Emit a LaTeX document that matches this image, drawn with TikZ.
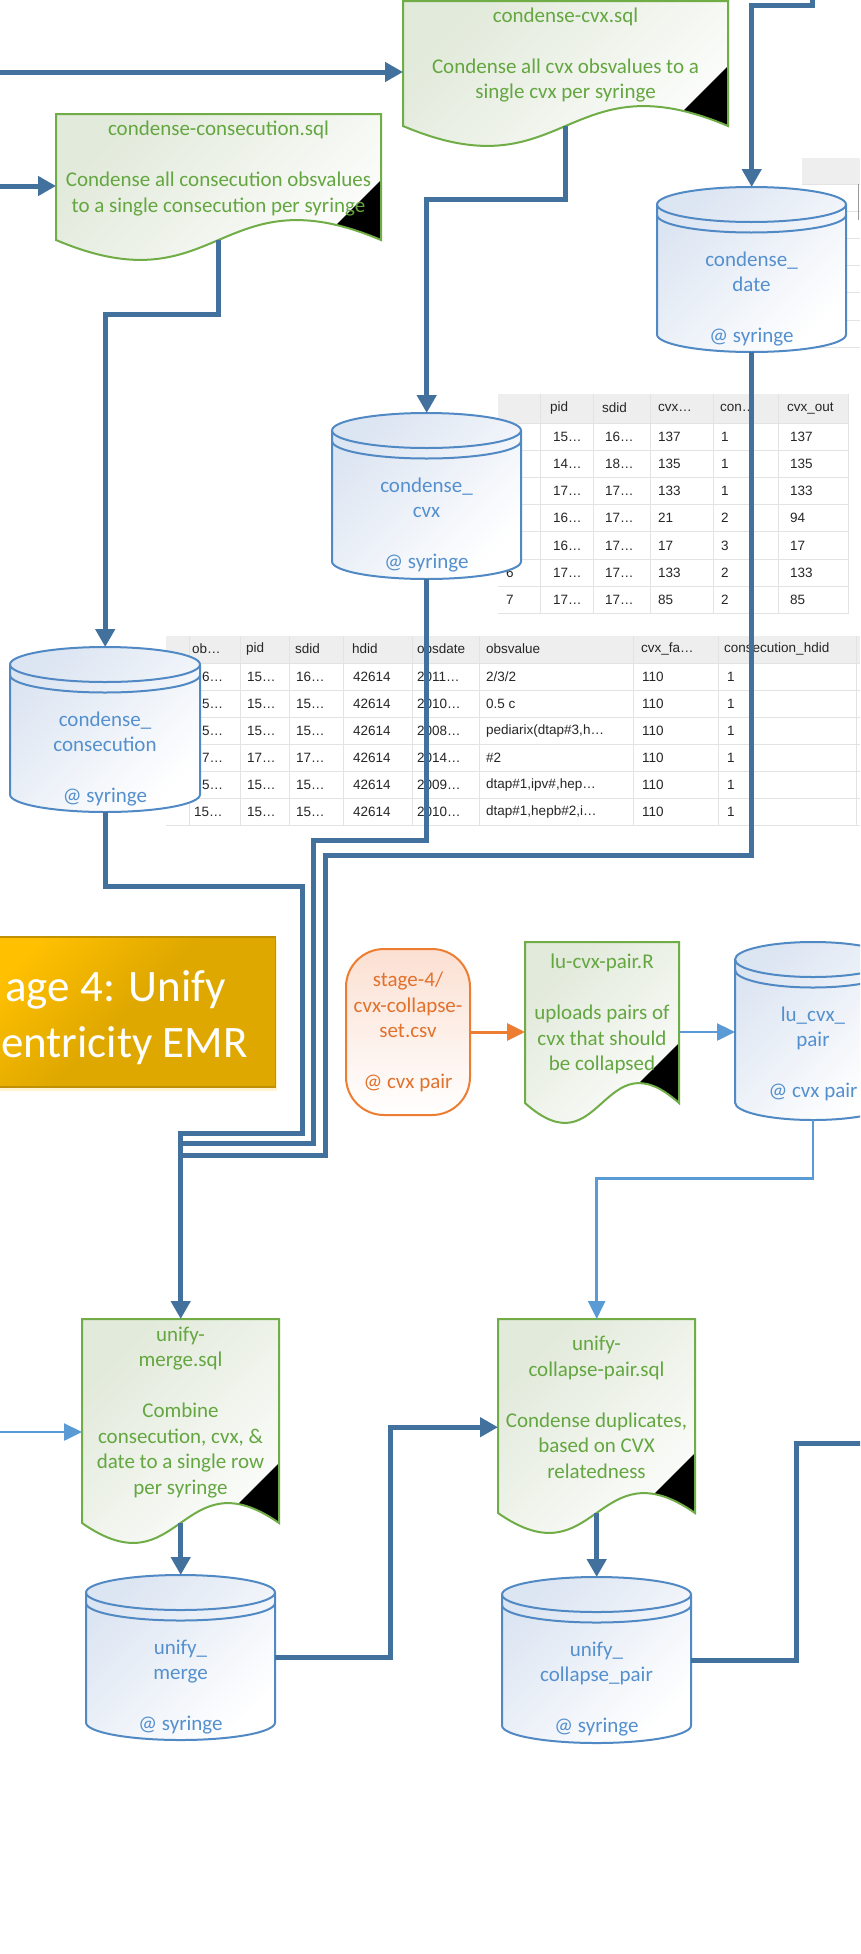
\documentclass[tikz,border=0pt]{standalone}
\usepackage{fontspec}
\setmainfont{Carlito}
\newfontfamily\tabfont{Liberation Sans}
\usetikzlibrary{positioning, calc, arrows.meta, shadows}

\definecolor{flowblue}{HTML}{41719C}
\definecolor{lightflow}{HTML}{5B9BD5}
\definecolor{docgreen}{HTML}{70AD47}
\definecolor{docgreentext}{HTML}{64A640}
\definecolor{docshade}{HTML}{E2EADB}
\definecolor{cylblue}{HTML}{5189C4}
\definecolor{cyltext}{HTML}{5590CE}
\definecolor{cylshade}{HTML}{DCE5F2}
\definecolor{csvorange}{HTML}{ED7D31}
\definecolor{csvtext}{HTML}{E2712B}
\definecolor{csvshade}{HTML}{FBE0D2}
\definecolor{stagegold}{HTML}{DFA800}
\definecolor{stagelight}{HTML}{FFC000}
\definecolor{stageedge}{HTML}{BF9000}
\definecolor{gridgray}{HTML}{E3E3E3}
\definecolor{headgray}{HTML}{EEEEEE}

\tikzset{
>={Triangle[width=19pt,length=18pt]}, % filled arrow heads
flow/.style={draw=flowblue, line width=5pt, ->}, % main data flow
flowline/.style={draw=flowblue, line width=5pt}, % flow that runs into another one
thinflow/.style={draw=lightflow, line width=2.5pt, ->, >={Triangle[width=17pt,length=18pt]}},
csvflow/.style={draw=csvorange, line width=3pt, ->, >={Triangle[width=17pt,length=18pt]}},
docbox/.style={rectangle, inner sep=0pt, draw=none},
docfill/.style={top color=docshade, bottom color=white, shading angle=45},
docedge/.style={draw=docgreen, line width=2pt},
doctext/.style={align=center, text=docgreentext, font=\fontsize{21}{25.5}\selectfont},
dbbox/.style={rectangle, inner sep=0pt, draw=none},
dbfill/.style={draw=cylblue, line width=2pt, top color=cylshade, bottom color=white, shading angle=45},
dbrim/.style={draw=cylblue, line width=2pt},
dbtext/.style={align=center, text=cyltext, font=\fontsize{21}{25.5}\selectfont},
csvbox/.style={rectangle, rounded corners=38pt, draw=csvorange, line width=2pt, top color=csvshade, bottom color=white, minimum width=124pt, minimum height=166pt, inner sep=0pt, align=center, text=csvtext, font=\fontsize{21}{25.5}\selectfont},
stagebox/.style={rectangle, draw=stageedge, line width=1.5pt, top color=stagelight, bottom color=stagegold, middle color=stagegold, shading angle=45, drop shadow={opacity=0.3, fill=stagelight!60, shadow xshift=2pt, shadow yshift=-4pt}},
stagetext/.style={text=white, inner sep=0pt, font=\fontsize{45}{55}\selectfont},
tabgrid/.style={draw=gridgray, line width=1pt},
tabcell/.style={anchor=west, inner sep=0pt, text=black!85, font=\tabfont\fontsize{13.5}{15}\selectfont},
}

% script page with wavy bottom: name, left, top, right, bottom, text
\newcommand{\sqldoc}[6]{%
  \node[docbox, minimum width={(#4-#2)*1pt}, minimum height={(#5-#3)*1pt}, anchor=north west] (#1) at (#2,#3) {};
  \path[docfill] (#2,#3) -- (#4,#3) -- (#4,#5) .. controls ({(#2+#4)/2},{#5-69}) and ({(#2+#4)/2},{#5+69}) .. (#2,#5) -- cycle;
  \begin{scope}
    \clip (#2,#3) -- (#4,#3) -- (#4,#5) .. controls ({(#2+#4)/2},{#5-69}) and ({(#2+#4)/2},{#5+69}) .. (#2,#5) -- cycle;
    \fill[black] (#4,{#5-60}) -- ++(-120,120) -- ++(120,0) -- cycle;
  \end{scope}
  \draw[docedge] (#2,#3) -- (#4,#3) -- (#4,#5) .. controls ({(#2+#4)/2},{#5-69}) and ({(#2+#4)/2},{#5+69}) .. (#2,#5) -- cycle;
  \node[doctext] (#1-t) at ({(#2+#4)/2},{(#3+#5)/2-8.5}) {#6};
}

% database cylinder: name, left, top, right, bottom, text
\newcommand{\dbcyl}[6]{%
  \node[dbbox, minimum width={(#4-#2)*1pt}, minimum height={(#5-#3)*1pt}, anchor=north west] (#1) at (#2,#3) {};
  \path[dbfill] (#2,{#3+17.5}) -- (#2,{#5-17.5})
    arc[start angle=180, end angle=360, x radius={(#4-#2)/2*1pt}, y radius=17.5pt]
    -- (#4,{#3+17.5})
    arc[start angle=0, end angle=180, x radius={(#4-#2)/2*1pt}, y radius=17.5pt] -- cycle;
  \draw[dbrim] (#2,{#3+17.5}) arc[start angle=180, end angle=360, x radius={(#4-#2)/2*1pt}, y radius=17.5pt];
  \draw[dbrim] (#2,{#3+28}) arc[start angle=180, end angle=360, x radius={(#4-#2)/2*1pt}, y radius=17.5pt];
  \node[dbtext] (#1-t) at ({(#2+#4)/2},{#3+112}) {#6};
}

\begin{document}
\begin{tikzpicture}[x=1pt, y=-1pt]
\useasboundingbox (0,0) rectangle (860,1954);
\fill[white] (0,0) rectangle (860,1954);
\clip (0,0) rectangle (860,1954);

% result grid behind condense_date
\fill[headgray] (802,158) rectangle (860,184);
\foreach \i in {0,...,6} \draw[tabgrid] (802,{184+27.2*\i}) -- (860,{184+27.2*\i});
\draw[black!40, line width=1pt] (858,184) -- (858,220);

% result grid of condense_cvx
\fill[headgray] (498,394) rectangle (848,423);
\foreach \i in {0,...,7} \draw[tabgrid] (498,{423+27.2*\i}) -- (848,{423+27.2*\i});
\foreach \x in {540,593,650,713,778,848} \draw[tabgrid] (\x,394) -- (\x,614);
\node[tabcell] (ta-h2) at (550,408) {pid};
\node[tabcell] (ta-h3) at (602,408) {sdid};
\node[tabcell] (ta-h4) at (658,408) {cvx…};
\node[tabcell] (ta-h5) at (720,408) {con…};
\node[tabcell] (ta-h6) at (787,408) {cvx\_out};
\foreach \r/\b/\c/\d/\e/\f in {1/15…/16…/137/1/137, 2/14…/18…/135/1/135, 3/17…/17…/133/1/133, 4/16…/17…/21/2/94, 5/16…/17…/17/3/17, 6/17…/17…/133/2/133, 7/17…/17…/85/2/85} {
  \pgfmathsetmacro{\ty}{423+27.2*(\r-0.5)}
  \node[tabcell] (ta-\r-2) at (553,\ty) {\b};
  \node[tabcell] (ta-\r-3) at (605,\ty) {\c};
  \node[tabcell] (ta-\r-4) at (658,\ty) {\d};
  \node[tabcell] (ta-\r-5) at (721,\ty) {\e};
  \node[tabcell] (ta-\r-6) at (790,\ty) {\f};
}
\node[tabcell] (ta-6-1) at (506,{423+27.2*5.5}) {6};
\node[tabcell] (ta-7-1) at (506,{423+27.2*6.5}) {7};

% result grid of condense_consecution
\fill[headgray] (166,636) rectangle (860,663);
\foreach \i in {0,...,6} \draw[tabgrid] (166,{663+27*\i}) -- (860,{663+27*\i});
\foreach \x in {189,240,289,343,412,479,633,718,856} \draw[tabgrid] (\x,636) -- (\x,825);
\node[tabcell] (tb-h1) at (192,649) {ob…};
\node[tabcell] (tb-h2) at (246,649) {pid};
\node[tabcell] (tb-h3) at (295,649) {sdid};
\node[tabcell] (tb-h4) at (352,649) {hdid};
\node[tabcell] (tb-h5) at (417,649) {obsdate};
\node[tabcell] (tb-h6) at (486,649) {obsvalue};
\node[tabcell] (tb-h7) at (641,649) {cvx\_fa…};
\node[tabcell] (tb-h8) at (724,649) {consecution\_hdid};
\foreach \r/\a/\b/\c/\d/\e/\f in {1/6…/15…/16…/42614/2011…/2\slash 3\slash 2, 2/5…/15…/15…/42614/2010…/0.5 c, 3/5…/15…/15…/42614/2008…/{pediarix(dtap\#3,h…}, 4/7…/17…/17…/42614/2014…/\#2, 5/5…/15…/15…/42614/2009…/{dtap\#1,ipv\#,hep…}} {
  \pgfmathsetmacro{\ty}{663+27*(\r-0.5)}
  \node[tabcell] (tb-\r-1) at (202,\ty) {\a};
  \node[tabcell] (tb-\r-2) at (247,\ty) {\b};
  \node[tabcell] (tb-\r-3) at (296,\ty) {\c};
  \node[tabcell] (tb-\r-4) at (353,\ty) {\d};
  \node[tabcell] (tb-\r-5) at (417,\ty) {\e};
  \node[tabcell] (tb-\r-6) at (486,\ty) {\f};
  \node[tabcell] (tb-\r-7) at (642,\ty) {110};
  \node[tabcell] (tb-\r-8) at (727,\ty) {1};
}
\node[tabcell] (tb-6-1) at (194,811.5) {15…};
\node[tabcell] (tb-6-2) at (247,811.5) {15…};
\node[tabcell] (tb-6-3) at (296,811.5) {15…};
\node[tabcell] (tb-6-4) at (353,811.5) {42614};
\node[tabcell] (tb-6-5) at (417,811.5) {2010…};
\node[tabcell] (tb-6-6) at (486,811.5) {dtap\#1,hepb\#2,i…};
\node[tabcell] (tb-6-7) at (642,811.5) {110};
\node[tabcell] (tb-6-8) at (727,811.5) {1};

% condense step
\sqldoc{cvxsql}{403}{1}{728}{126}{condense-cvx.sql\\\mbox{}\\Condense all cvx obsvalues to a\\single cvx per syringe}
\sqldoc{consql}{56}{114}{381}{240}{condense-consecution.sql\\\mbox{}\\Condense all consecution obsvalues\\to a single consecution per syringe}
\dbcyl{datecyl}{657}{187}{846}{352}{condense\_\\date\\\mbox{}\\@ syringe}
\dbcyl{cvxcyl}{332}{413}{521}{579}{condense\_\\cvx\\\mbox{}\\@ syringe}
\dbcyl{conscyl}{10}{647}{200}{812}{condense\_\\consecution\\\mbox{}\\@ syringe}

% stage title
\node[stagebox, minimum width=300pt, minimum height=150pt, anchor=north east] (stage) at (276,936) {};
\node[stagetext, anchor=east] (stage-a) at (226,990) {age 4: Unify};
\node[stagetext, anchor=west] (stage-b) at (1,1046) {entricity EMR};

% cvx pair lookup
\node[csvbox] (csv) at (408,1032) {stage-4/\\cvx-collapse-\\set.csv\\\mbox{}\\@ cvx pair};
\sqldoc{lusql}{525}{942}{679}{1103}{lu-cvx-pair.R\\\mbox{}\\uploads pairs of\\cvx that should\\be collapsed}
\dbcyl{lucyl}{735}{942}{891}{1120}{lu\_cvx\_\\pair\\\mbox{}\\@ cvx pair}

% unify step
\sqldoc{mergesql}{82}{1319}{279}{1523}{unify-\\merge.sql\\\mbox{}\\Combine\\consecution, cvx, \&\\date to a single row\\per syringe}
\dbcyl{mergecyl}{86}{1575}{275}{1740}{unify\_\\merge\\\mbox{}\\@ syringe}
\sqldoc{collapsesql}{498}{1319}{695}{1513}{unify-\\collapse-pair.sql\\\mbox{}\\Condense duplicates,\\based on CVX\\relatedness}
\dbcyl{collapsecyl}{502}{1577}{691}{1743}{unify\_\\collapse\_pair\\\mbox{}\\@ syringe}

% loose ends
\coordinate (in-cvx) at (-5,72);
\coordinate (in-cons) at (-5,186);
\coordinate (in-date) at (812,-5);
\coordinate (in-merge) at (-5,1432);
\coordinate (out-collapse) at (866,1443);

% flows
\draw[flow] (in-cvx) -- (in-cvx -| cvxsql.west);
\draw[flow] (in-cons) -- (in-cons -| consql.west);
\draw[flow] (in-date) |- ($(datecyl.north)+(0,-182)$) -- (datecyl.north);
\draw[flow] (cvxsql.south) -- ++(0,73) -| (cvxcyl.north);
\draw[flow] (consql.south) -- ++(0,74) -| (conscyl.north);
\draw[flowline] (cvxcyl.south) |- (313,840) |- ($(mergesql.north)+(0,-176)$);
\draw[flowline] (datecyl.south) |- (325,855) |- ($(mergesql.north)+(0,-164)$);
\draw[flow] (conscyl.south) -- ++(0,74) -| (302,1133) -| (mergesql.north);
\draw[csvflow] (csv.east) -- (csv.east -| lusql.west);
\draw[thinflow] (csv.east -| lusql.east) -- (csv.east -| lucyl.west);
\draw[thinflow] (lucyl.south) -- ++(0,58) -| (collapsesql.north);
\draw[thinflow] (in-merge) -- (in-merge -| mergesql.west);
\draw[flow] (mergesql.south) -- (mergecyl.north);
\draw[flow] (collapsesql.south) -- (collapsecyl.north);
\draw[flow] (mergecyl.east) -| ($(collapsesql.west)+(-108,11)$) -- ($(collapsesql.west)+(0,11)$);
\draw[flowline] (collapsecyl.east) -| ($(out-collapse)+(-70,0)$) -- (out-collapse);
\end{tikzpicture}
\end{document}
